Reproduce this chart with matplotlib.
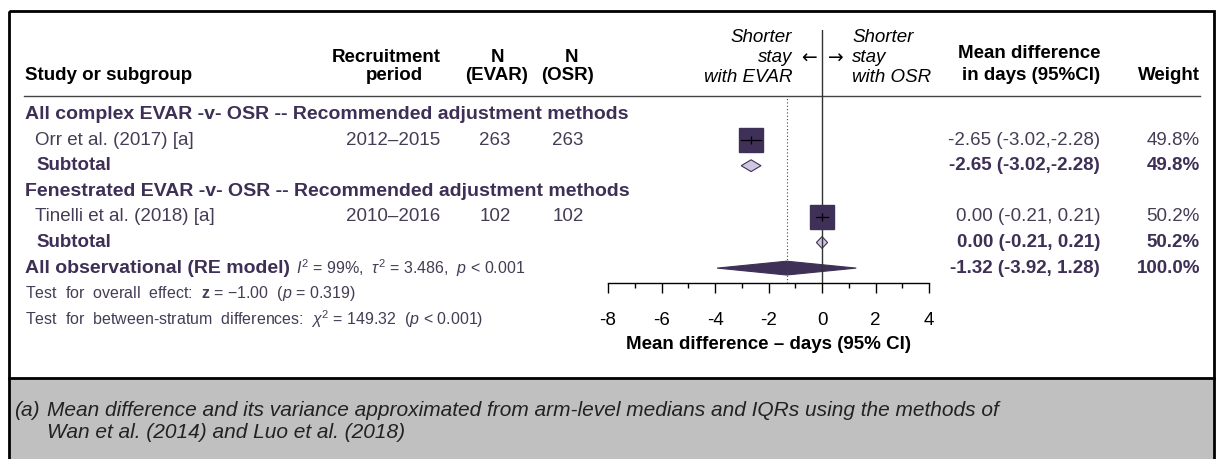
import matplotlib.pyplot as plt
from matplotlib.patches import Polygon, Rectangle

plt.rcParams['font.family'] = ['Liberation Sans', 'DejaVu Sans']
plt.rcParams['mathtext.fontset'] = 'custom'
plt.rcParams['mathtext.rm'] = 'Liberation Sans'
plt.rcParams['mathtext.it'] = 'Liberation Sans:italic'
plt.rcParams['mathtext.bf'] = 'Liberation Sans:bold'
plt.rcParams['axes.unicode_minus'] = False

# data
subgroups = ["All complex EVAR -v- OSR -- Recommended adjustment methods",
             "Fenestrated EVAR -v- OSR -- Recommended adjustment methods"]
studies = ["Orr et al. (2017) [a]", "Tinelli et al. (2018) [a]"]
periods = ["2012\u20132015", "2010\u20132016"]
n_evar = [263, 102]
n_osr = [263, 102]
md = [-2.65, 0.00]
ci_lo = [-3.02, -0.21]
ci_hi = [-2.28, 0.21]
weights = [49.8, 50.2]
# subtotals (one study per subgroup)
sub_md = [-2.65, 0.00]
sub_lo = [-3.02, -0.21]
sub_hi = [-2.28, 0.21]
sub_w = [49.8, 50.2]
overall = [-1.32, -3.92, 1.28]
x_ticks = [-8, -6, -4, -2, 0, 2, 4]

W, H = 1224, 459
PURPLE = '#3d2f55'
TXT = '#453c55'
ROW0, ROWH = 114.5, 25.6

fig = plt.figure(figsize=(W / 100, H / 100), dpi=100)
bg = fig.add_axes([0, 0, 1, 1])
bg.set_xlim(0, W)
bg.set_ylim(H, 0)
bg.axis('off')


def row_y(k):
    return ROW0 + k * ROWH


def ci_text(m, lo, hi):
    return f"{m:.2f} ({lo:.2f},{hi: .2f})".replace(", -", ",-")


# frame and footnote box
bg.add_patch(Rectangle((9, 378), 1205, 81, facecolor='#c0c0c0', edgecolor='none'))
bg.add_patch(Rectangle((9, 11), 1205, 460, fill=False, edgecolor='black', lw=2))
bg.plot([9, 1214], [378, 378], color='black', lw=2)
bg.plot([24, 1200], [96, 96], color='#444444', lw=1)

fs = 13.5
hfs = 13.5
# header
bg.text(25, 76, "Study or subgroup", fontsize=hfs, weight='bold', va='center')
bg.text(386, 57, "Recruitment", fontsize=hfs, weight='bold', va='center', ha='center')
bg.text(394, 76, "period", fontsize=hfs, weight='bold', va='center', ha='center')
bg.text(498, 57, "N", fontsize=hfs, weight='bold', va='center', ha='center')
bg.text(497, 76, "(EVAR)", fontsize=hfs, weight='bold', va='center', ha='center')
bg.text(572, 57, "N", fontsize=hfs, weight='bold', va='center', ha='center')
bg.text(567, 76, "(OSR)", fontsize=hfs, weight='bold', va='center', ha='center')
bg.text(792, 37, "Shorter", fontsize=fs, style='italic', va='center', ha='right')
bg.text(792, 58, "stay", fontsize=fs, style='italic', va='center', ha='right')
bg.text(817, 58, "\u2190", fontsize=fs, family='DejaVu Sans', va='center', ha='right')
bg.text(852, 37, "Shorter", fontsize=fs, style='italic', va='center', ha='left')
bg.text(792, 77, "with EVAR", fontsize=fs, style='italic', va='center', ha='right')
bg.text(828, 58, "\u2192", fontsize=fs, family='DejaVu Sans', va='center', ha='left')
bg.text(852, 58, "stay", fontsize=fs, style='italic', va='center', ha='left')
bg.text(852, 77, "with OSR", fontsize=fs, style='italic', va='center', ha='left')
bg.text(1100, 53, "Mean difference", fontsize=hfs, weight='bold', va='center', ha='right')
bg.text(1100, 75, "in days (95%CI)", fontsize=hfs, weight='bold', va='center', ha='right')
bg.text(1200, 76, "Weight", fontsize=hfs, weight='bold', va='center', ha='right')

# rows
for i in range(2):
    k0 = 3 * i
    bg.text(25, row_y(k0), subgroups[i], fontsize=14, weight='bold', color=PURPLE, va='center')
    bg.text(35, row_y(k0 + 1), studies[i], fontsize=fs, color=TXT, va='center')
    bg.text(440, row_y(k0 + 1), periods[i], fontsize=fs, color=TXT, va='center', ha='right')
    bg.text(495, row_y(k0 + 1), str(n_evar[i]), fontsize=fs, color=TXT, va='center', ha='center')
    bg.text(568, row_y(k0 + 1), str(n_osr[i]), fontsize=fs, color=TXT, va='center', ha='center')
    bg.text(1100, row_y(k0 + 1), ci_text(md[i], ci_lo[i], ci_hi[i]),
            fontsize=fs, color=TXT, va='center', ha='right')
    bg.text(1200, row_y(k0 + 1), f"{weights[i]:.1f}%", fontsize=fs, color=TXT, va='center', ha='right')
    bg.text(36, row_y(k0 + 2), "Subtotal", fontsize=fs, weight='bold', color=PURPLE, va='center')
    bg.text(1100, row_y(k0 + 2), ci_text(sub_md[i], sub_lo[i], sub_hi[i]),
            fontsize=fs, weight='bold', color=PURPLE, va='center', ha='right')
    bg.text(1200, row_y(k0 + 2), f"{sub_w[i]:.1f}%", fontsize=fs, weight='bold', color=PURPLE,
            va='center', ha='right')

t_all = bg.text(25, row_y(6), "All observational (RE model)", fontsize=14, weight='bold',
                color=PURPLE, va='center')
bg.annotate(r"$I^2$ = 99%,  $\tau^2$ = 3.486,  $p$ < 0.001", xy=(1, 0.5), xycoords=t_all,
            xytext=(4, 0), textcoords='offset points', fontsize=11.5, color=TXT, va='center')
bg.text(1100, row_y(6), ci_text(*overall),
        fontsize=fs, weight='bold', color=PURPLE, va='center', ha='right')
bg.text(1200, row_y(6), f"{sum(weights):.1f}%", fontsize=fs, weight='bold', color=PURPLE,
        va='center', ha='right')
bg.text(25, row_y(7), "Test  for  overall  effect:  $\\mathbf{z}$ = \u22121.00  ($p$ = 0.319)",
        fontsize=11.5, color=TXT, va='center')
bg.text(25, row_y(8), "Test  for  between-stratum  differences:  $\\chi^2$ = 149.32  ($p$ < 0.001)",
        fontsize=11.5, color=TXT, va='center')

# footnote
foot_fs = 15
bg.text(14, 410, "(a)", fontsize=foot_fs, style='italic', color='#222222', va='center')
bg.text(47, 410, "Mean difference and its variance approximated from arm-level medians and IQRs "
        "using the methods of", fontsize=foot_fs, style='italic', color='#222222', va='center')
bg.text(47, 433, "Wan et al. (2014) and Luo et al. (2018)", fontsize=foot_fs, style='italic',
        color='#222222', va='center')

# forest panel
ax_top, ax_bot = 30, 283
ax = fig.add_axes([608 / W, (H - ax_bot) / H, (929 - 608) / W, (ax_bot - ax_top) / H])
ax.patch.set_alpha(0)
ax.set_xlim(-8, 4)
ax.set_ylim((ax_bot - ROW0) / ROWH, (ax_top - ROW0) / ROWH)
for s in ['top', 'left', 'right']:
    ax.spines[s].set_visible(False)
ax.spines['bottom'].set_linewidth(1)
ax.set_yticks([])
ax.set_xticks(x_ticks)
ax.set_xticks(range(-7, 4, 2), minor=True)
ax.tick_params(axis='x', which='major', length=7.2, width=1, pad=14, labelsize=fs)
ax.tick_params(axis='x', which='minor', length=3.6, width=1)
ax.set_xlabel("Mean difference \u2013 days (95% CI)", fontsize=hfs, weight='bold', labelpad=5)

ax.axvline(0, color='#333333', lw=1)
ax.axvline(overall[0], ymin=0, ymax=(ax_bot - 98) / (ax_bot - ax_top), color='#444444',
           lw=0.8, ls=(0, (1, 2)))

for i in range(2):
    k = 3 * i + 1
    ax.plot(md[i], k, marker='s', ms=17 * (weights[i] / 50) ** 0.5, color='#3f3057',
            mec='#3f3057')
    ax.plot([ci_lo[i], ci_hi[i]], [k, k], color='black', lw=0.9)
    ax.plot(md[i], k, marker='|', ms=6, color='black', mew=0.9)
    ks = k + 1
    ax.add_patch(Polygon([(sub_lo[i], ks), (sub_md[i], ks - 0.23), (sub_hi[i], ks),
                          (sub_md[i], ks + 0.23)], closed=True, facecolor='#cfc7e0',
                         edgecolor='#3f3057', lw=0.8))

ax.add_patch(Polygon([(overall[1], 6), (overall[0], 6 - 0.27), (overall[2], 6),
                      (overall[0], 6 + 0.27)], closed=True, facecolor='#3f3057',
                     edgecolor='#3f3057', lw=0.8))

fig.savefig("out.png", dpi=100)
